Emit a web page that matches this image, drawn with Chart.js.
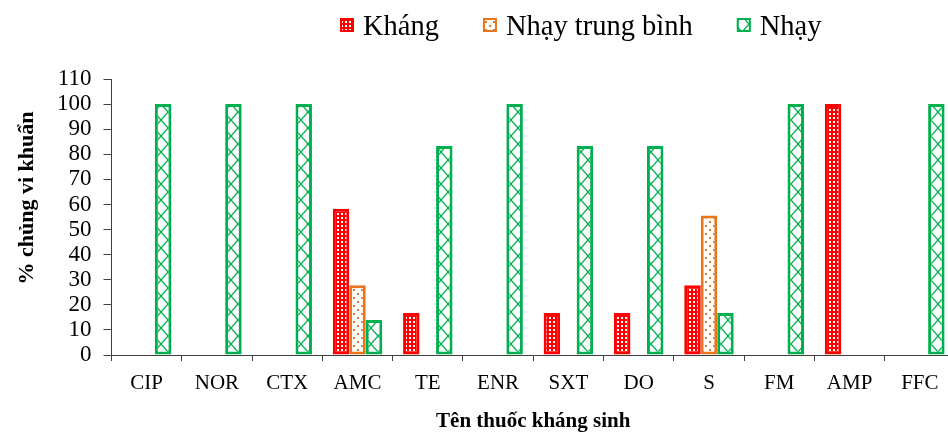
<!DOCTYPE html>
<html>
<head>
<meta charset="utf-8">
<script src="https://cdn.jsdelivr.net/npm/chart.js@4.4.1/dist/chart.umd.min.js"></script>
<style>
  html, body { margin: 0; padding: 0; overflow: hidden; background: #fff; }
  #wrap { width: 955px; height: 432px; }
</style>
</head>
<body>
<div id="wrap"><canvas id="abChart"></canvas></div>
<script>
const drugs = ["CIP", "NOR", "CTX", "AMC", "TE", "ENR", "SXT", "DO", "S", "FM", "AMP", "FFC"];
const khang = [null, null, null, 58.3, 16.7, null, 16.7, 16.7, 27.8, null, 100, null];
const trungBinh = [null, null, null, 27.8, null, null, null, null, 55.6, null, null, null];
const nhay = [100, 100, 100, 13.9, 83.3, 100, 83.3, 83.3, 16.7, 100, null, 100];
const yTicks = [0, 10, 20, 30, 40, 50, 60, 70, 80, 90, 100, 110];
const yTitle = "% chủng vi khuẩn";

const FONT = "'Liberation Serif', 'Times New Roman', serif";
const RED = "#FF0000";
const ORANGE = "#E8761E";
const GREEN = "#00B050";
const AXIS = "#404040";

function makePattern(w, h, draw) {
  const c = document.createElement("canvas");
  c.width = w;
  c.height = h;
  draw(c.getContext("2d"));
  return c.getContext("2d").createPattern(c, "repeat");
}

// red with white little squares
const redFill = makePattern(4, 4, g => {
  g.fillStyle = RED;
  g.fillRect(0, 0, 4, 4);
  g.fillStyle = "#fff";
  g.fillRect(1, 1, 2, 2);
});

// white with orange dots
const orangeFill = makePattern(8, 8, g => {
  g.fillStyle = "#fff";
  g.fillRect(0, 0, 8, 8);
  g.fillStyle = ORANGE;
  g.fillRect(1, 1, 2, 2);
  g.fillRect(5, 5, 2, 2);
});

// white with green diagonal lattice
const greenFill = makePattern(14, 16, g => {
  g.fillStyle = "#fff";
  g.fillRect(0, 0, 14, 16);
  g.strokeStyle = GREEN;
  g.lineWidth = 1.3;
  g.beginPath();
  g.moveTo(0, 0); g.lineTo(14, 16);
  g.moveTo(14, 0); g.lineTo(0, 16);
  g.stroke();
});

// legend drawn as one row above the plot, y title sits a bit above the middle
const extras = {
  id: "extras",
  afterDraw(chart) {
    const ctx = chart.ctx;
    let x = 340;
    ctx.save();
    ctx.font = "28.5px " + FONT;
    ctx.textBaseline = "alphabetic";
    ctx.textAlign = "left";
    chart.data.datasets.forEach(ds => {
      ctx.fillStyle = ds.backgroundColor;
      ctx.fillRect(x, 18, 14, 14);
      ctx.strokeStyle = ds.borderColor;
      ctx.lineWidth = 2;
      ctx.strokeRect(x + 1, 19, 12, 12);
      ctx.fillStyle = "#000";
      ctx.fillText(ds.label, x + 23, 35);
      x += 23 + ctx.measureText(ds.label).width + 44;
    });
    ctx.restore();

    ctx.save();
    ctx.translate(33, 198);
    ctx.rotate(-Math.PI / 2);
    ctx.font = "bold 22px " + FONT;
    ctx.textAlign = "center";
    ctx.textBaseline = "alphabetic";
    ctx.fillStyle = "#000";
    ctx.fillText(yTitle, 0, 0);
    ctx.restore();
  }
};

const ctx = document.getElementById("abChart").getContext("2d");

new Chart(ctx, {
  type: "bar",
  data: {
    labels: drugs,
    datasets: [
      { label: "Kháng", data: khang, backgroundColor: redFill, borderColor: RED, borderWidth: 3 },
      { label: "Nhạy trung bình", data: trungBinh, backgroundColor: orangeFill, borderColor: ORANGE, borderWidth: 3 },
      { label: "Nhạy", data: nhay, backgroundColor: greenFill, borderColor: GREEN, borderWidth: 3 }
    ]
  },
  options: {
    responsive: true,
    maintainAspectRatio: false,
    animation: false,
    layout: { padding: { top: 79, left: 0, right: 0, bottom: 0 } },
    datasets: {
      bar: { categoryPercentage: 0.704, barPercentage: 1, borderSkipped: false }
    },
    plugins: {
      legend: { display: false },
      tooltip: { enabled: false }
    },
    scales: {
      x: {
        offset: true,
        grid: { offset: true, drawOnChartArea: false, drawTicks: true, tickLength: 6, color: AXIS },
        border: { color: AXIS, width: 1 },
        ticks: { color: "#000", font: { family: FONT, size: 21 }, padding: 10 },
        title: {
          display: true,
          text: "Tên thuốc kháng sinh",
          color: "#000",
          font: { family: FONT, size: 21, weight: "bold" },
          padding: { top: 0, bottom: -2 }
        },
        afterFit(scale) { scale.height = 77; }
      },
      y: {
        min: 0,
        max: 110,
        afterBuildTicks(scale) { scale.ticks = yTicks.map(v => ({ value: v })); },
        grid: { drawOnChartArea: false, drawTicks: true, tickLength: 8, color: AXIS },
        border: { color: AXIS, width: 1 },
        ticks: { color: "#000", font: { family: FONT, size: 23 }, padding: 12, autoSkip: false },
        afterFit(scale) { scale.width = 111.5; }
      }
    }
  },
  plugins: [extras]
});
</script>
</body>
</html>
